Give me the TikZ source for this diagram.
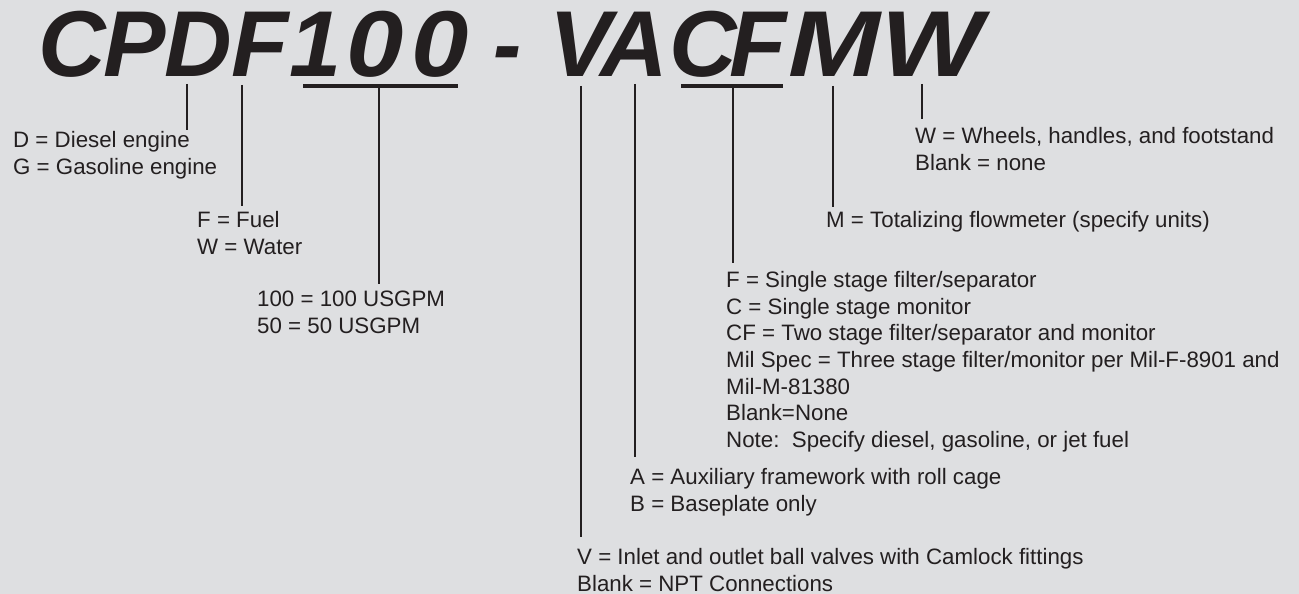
\documentclass[tikz,border=0pt]{standalone}
\usepackage{fontspec}
\setmainfont{Liberation Sans}
\usetikzlibrary{positioning,calc}
\definecolor{panelGray}{HTML}{DEDFE1}
\definecolor{inkBlack}{HTML}{231F20}
\begin{document}
\begin{tikzpicture}
[x=1pt,y=-1pt,%
  codeLetter/.style={anchor=base,inner sep=0pt,text=inkBlack,font=\fontsize{93.6}{93.6}\selectfont\bfseries\itshape},%
  keyText/.style={anchor=north west,inner sep=0pt,align=left,text=inkBlack,font=\fontsize{22.3}{26.7}\selectfont},%
  leadLine/.style={-,line width=2pt,draw=inkBlack},%
  underBar/.style={-,line width=4pt,draw=inkBlack}]
\fill[panelGray] (0,0) rectangle (1299,594);
\useasboundingbox (0,0) rectangle (1299,594);
%% letters of the model code
\foreach \nodename/\letter/\x/\sx in {c1/C/72/1, p/P/135/1, d/D/198/1, f1/F/260/1, one/1/316/1, zeroa/0/375/1.1, zerob/0/440/1.1, dash/-/508/0.9, v/V/581/1, a/A/634/1, c2/C/703/1, f2/F/758/1, m/M/834/1.18, w/W/932/1.15}
{
  \node (\nodename) at (\x,77) [codeLetter] {\scalebox{\sx}[1]{\letter}};
}
%% underlines
\coordinate (hbarL) at (303,86);
\coordinate (hbarR) at (458,86);
\coordinate (cfbarL) at (681,86);
\coordinate (cfbarR) at (783,86);
\draw[underBar] (hbarL) -- (hbarR);
\draw[underBar] (cfbarL) -- (cfbarR);
%% keys
\node (dkey) at (13,131) [keyText] {D = Diesel engine\\G = Gasoline engine};
\node (fkey) at (197,211) [keyText] {F = Fuel\\W = Water};
\node (hkey) at (257,291) [keyText] {100 = 100 USGPM\\50 = 50 USGPM};
\node (cfkey) at (726,271) [keyText] {F = Single stage filter/separator\\C = Single stage monitor\\CF = Two stage filter/separator and monitor\\Mil Spec = Three stage filter/monitor per Mil-F-8901 and\\Mil-M-81380\\Blank=None\\Note:\ \ Specify diesel, gasoline, or jet fuel};
\node (akey) at (630,468) [keyText] {A = Auxiliary framework with roll cage\\B = Baseplate only};
\node (vkey) at (577,548) [keyText] {V = Inlet and outlet ball valves with Camlock fittings\\Blank = NPT Connections};
\node (mkey) at (826,211) [keyText] {M = Totalizing flowmeter (specify units)};
\node (wkey) at (915,127) [keyText] {W = Wheels, handles, and footstand\\Blank = none};
%% lead lines
\coordinate (dtop) at (187,84);
\coordinate (ftop) at (242,85);
\coordinate (htop) at (379,86);
\coordinate (vtop) at (581,86);
\coordinate (atop) at (635,84);
\coordinate (cftop) at (733,86);
\coordinate (mtop) at (833,86);
\coordinate (wtop) at (922,84);
\foreach \topname/\keyname/\gap in {dtop/dkey/1, ftop/fkey/5, htop/hkey/7, vtop/vkey/11, atop/akey/11, cftop/cfkey/8, mtop/mkey/4, wtop/wkey/8}
{
  \draw[leadLine] (\topname) -- ($(\topname |- \keyname.north)+(0,-\gap)$);
}
\end{tikzpicture}
\end{document}
